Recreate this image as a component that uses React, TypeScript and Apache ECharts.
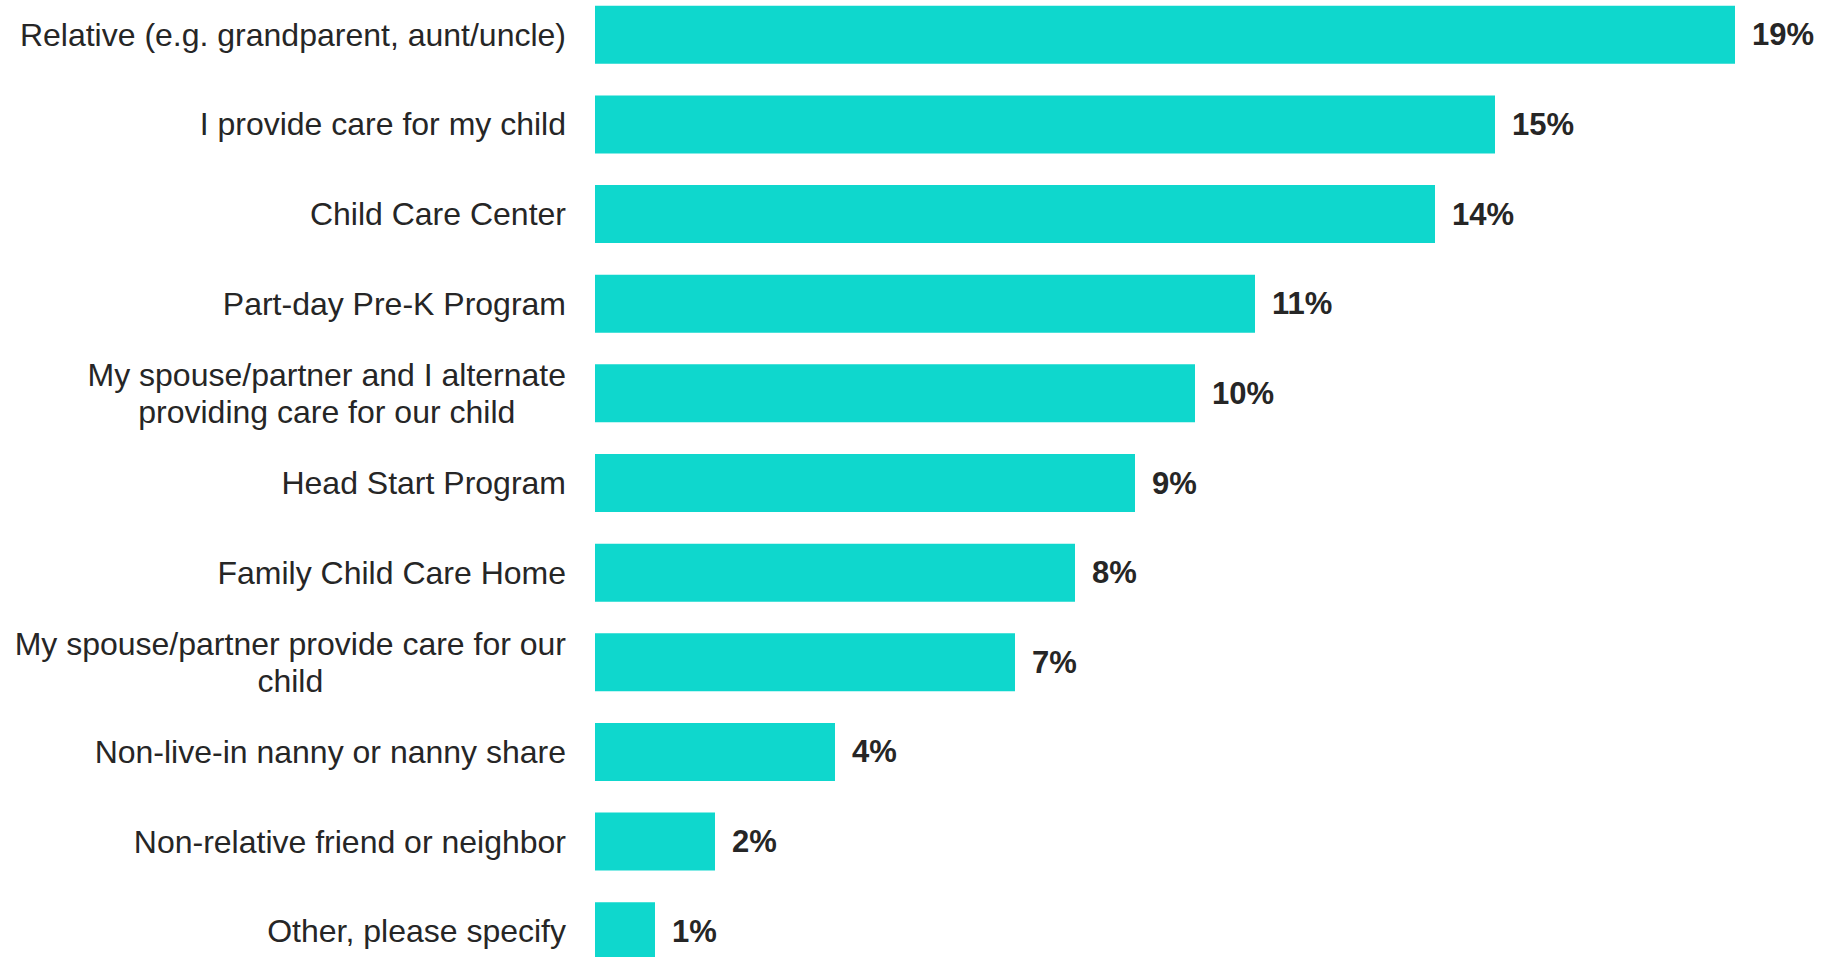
import React, { useEffect, useRef } from "react";
import * as echarts from "echarts";

const categories: string[] = [
  "Relative (e.g. grandparent, aunt/uncle)",
  "I provide care for my child",
  "Child Care Center",
  "Part-day Pre-K Program",
  "My spouse/partner and I alternate\nproviding care for our child",
  "Head Start Program",
  "Family Child Care Home",
  "My spouse/partner provide care for our\nchild",
  "Non-live-in nanny or nanny share",
  "Non-relative friend or neighbor",
  "Other, please specify",
];

const values: number[] = [19, 15, 14, 11, 10, 9, 8, 7, 4, 2, 1];

export default function App() {
  const ref = useRef<HTMLDivElement>(null);

  useEffect(() => {
    document.body.style.margin = "0";
    if (!ref.current) return;
    const chart = echarts.init(ref.current, undefined, { renderer: "svg" });
    chart.setOption({
      animation: false,
      backgroundColor: "#ffffff",
      grid: {
        left: 595,
        top: -10,
        width: 1200,
        height: 986,
        outerBoundsMode: "none",
        containLabel: false,
      },
      xAxis: {
        type: "value",
        min: 0,
        max: 20,
        show: false,
        splitLine: { show: false },
      },
      yAxis: {
        type: "category",
        inverse: true,
        data: categories,
        axisLine: { show: false },
        axisTick: { show: false },
        axisLabel: {
          margin: 29,
          color: "#262626",
          fontFamily: "Liberation Sans, Arial, sans-serif",
          fontSize: 32,
          lineHeight: 37,
          formatter: (v: string) =>
            v
              .split("\n")
              .map((s) => "{c|" + s + "}")
              .join("\n"),
          rich: {
            c: {
              align: "center",
              color: "#262626",
              fontFamily: "Liberation Sans, Arial, sans-serif",
              fontSize: 32,
              lineHeight: 37,
            },
          },
        },
      },
      series: [
        {
          type: "bar",
          data: values,
          barWidth: 58,
          itemStyle: { color: "#0FD7CD" },
          label: {
            show: true,
            position: "right",
            distance: 17,
            formatter: "{c}%",
            color: "#262626",
            fontFamily: "Liberation Sans, Arial, sans-serif",
            fontWeight: "bold",
            fontSize: 31,
          },
        },
      ],
    });
    return () => chart.dispose();
  }, []);

  return (
    <div
      ref={ref}
      style={{ position: "absolute", left: 0, top: 0, width: 1823, height: 957 }}
    />
  );
}
